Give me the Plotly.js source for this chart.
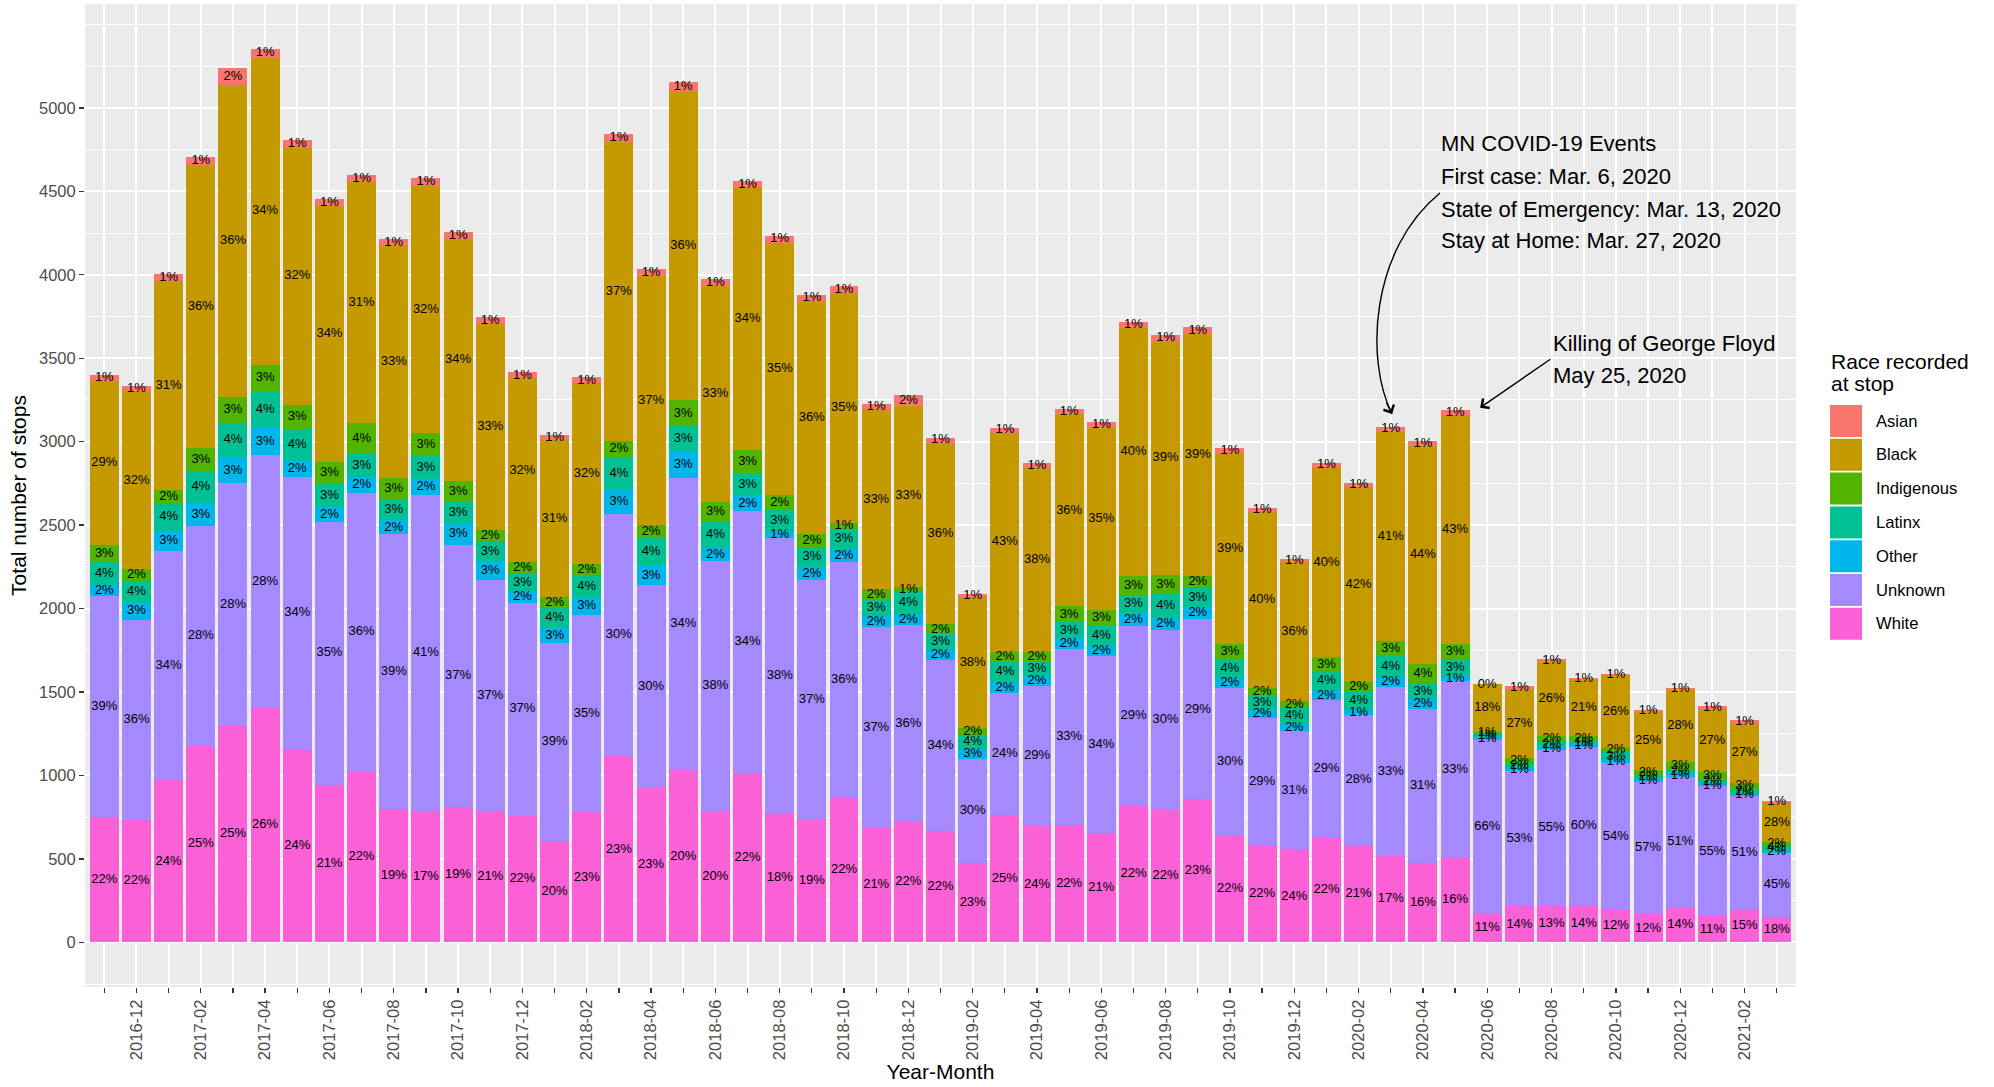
<!DOCTYPE html>
<html><head><meta charset="utf-8">
<script src="https://cdn.plot.ly/plotly-3.0.1.min.js"></script>
<style>html,body{margin:0;padding:0;background:#fff}</style>
</head><body><div id="chart" style="width:1994px;height:1087px"></div>
<script>
const months = ["2016-11","2016-12","2017-01","2017-02","2017-03","2017-04","2017-05","2017-06","2017-07","2017-08","2017-09","2017-10","2017-11","2017-12",
"2018-01","2018-02","2018-03","2018-04","2018-05","2018-06","2018-07","2018-08","2018-09","2018-10","2018-11","2018-12",
"2019-01","2019-02","2019-03","2019-04","2019-05","2019-06","2019-07","2019-08","2019-09","2019-10","2019-11","2019-12",
"2020-01","2020-02","2020-03","2020-04","2020-05","2020-06","2020-07","2020-08","2020-09","2020-10","2020-11","2020-12",
"2021-01","2021-02","2021-03"];
const totals = [3400,3335,4005,4705,5240,5355,4810,4455,4600,4215,4580,4255,3745,3415,
3040,3385,4845,4035,5155,3975,4565,4235,3880,3930,3225,3280,
3025,2090,3085,2870,3195,3115,3720,3640,3685,2960,2605,2300,
2875,2755,3090,3005,3190,1545,1535,1695,1585,1610,1395,1525,
1415,1330,845];
const categories = ["Asian","Black","Indigenous","Latinx","Other","Unknown","White"];
const colors = ["#F8766D","#C49A00","#53B400","#00C094","#00B6EB","#A58AFF","#FB61D7"];
const pctAsian = [1,1,1,1,2,1,1,1,1,1,1,1,1,1,1,1,1,1,1,1,1,1,1,1,1,2,1,1,1,1,1,1,1,1,1,1,1,1,1,1,1,1,1,0,1,1,1,1,1,1,1,1,1];
const pctBlack = [29,32,31,36,36,34,32,34,31,33,32,34,33,32,31,32,37,37,36,33,34,35,36,35,33,33,36,38,43,38,36,35,40,39,39,39,40,36,40,42,41,44,43,18,27,26,21,26,25,28,27,27,28];
const pctIndigenous = [3,2,2,3,3,3,3,3,4,3,3,3,2,2,2,2,2,2,3,3,3,2,2,1,2,1,2,2,2,2,3,3,3,3,2,3,2,2,3,2,3,4,3,1,2,2,2,2,2,3,3,3,2];
const pctLatinx = [4,4,4,4,4,4,4,3,3,3,3,3,3,3,4,4,4,4,3,4,3,3,3,3,3,4,3,4,4,3,3,4,3,4,3,4,3,4,4,4,4,3,3,1,2,2,1,3,2,2,2,2,4];
const pctOther = [2,3,3,3,3,3,2,2,2,2,2,3,3,2,3,3,3,3,3,2,2,1,2,2,2,2,2,3,2,2,2,2,2,2,2,2,2,2,2,1,2,2,1,1,1,1,1,1,1,1,1,1,2];
const pctUnknown = [39,36,34,28,28,28,34,35,36,39,41,37,37,37,39,35,30,30,34,38,34,38,37,36,37,36,34,30,24,29,33,34,29,30,29,30,29,31,29,28,33,31,33,66,53,55,60,54,57,51,55,51,45];
const pctWhite = [22,22,24,25,25,26,24,21,22,19,17,19,21,22,20,23,23,23,20,20,22,18,19,22,21,22,22,23,25,24,22,21,22,22,23,22,22,24,22,21,17,16,16,11,14,13,14,12,12,14,11,15,18];

const pct = {Asian:pctAsian, Black:pctBlack, Indigenous:pctIndigenous, Latinx:pctLatinx, Other:pctOther, Unknown:pctUnknown, White:pctWhite};
const FONT = "Liberation Sans, Arial, Helvetica, sans-serif";

// layout geometry
const W = 1994, H = 1087, ML = 85, MR = 198, MT = 4, MB = 100;
const PW = W - ML - MR, PH = H - MT - MB;
const px2paperX = X => (X - ML) / PW;
const px2paperY = Y => (H - MB - Y) / PH;

const sums = months.map((m,i) => categories.reduce((s,c) => s + pct[c][i], 0));
const base = months.map(() => 0);
const barTraces = [], labelTraces = [];
categories.slice().reverse().forEach(c => {
  const vals = months.map((m,i) => totals[i] * pct[c][i] / sums[i]);
  const mids = vals.map((v,i) => base[i] + v/2);
  vals.forEach((v,i) => base[i] += v);
  barTraces.push({type:'bar', x:months, y:vals, name:c,
    marker:{color:colors[categories.indexOf(c)], line:{width:0}},
    hoverinfo:'skip', showlegend:false});
  labelTraces.push({type:'scatter', mode:'text', x:months, y:mids,
    text: pct[c].map(p => p + '%'), textposition:'middle center',
    textfont:{family:FONT, size:13, color:'#000000'},
    hoverinfo:'skip', showlegend:false, cliponaxis:false});
});

const maxTot = Math.max(...totals);
const yRange = [-0.05*maxTot, 1.05*maxTot];
// major breaks cover the data range; minor grid lines every 250 across the panel
const majorTicks = [], minorTicks = [];
for (let v = 0; v <= maxTot; v += 500) majorTicks.push(v);
for (let v = -250; v <= yRange[1]; v += 250) if (majorTicks.indexOf(v) < 0) minorTicks.push(v);

// custom legend
const shapes = [], annotations = [];
categories.forEach((c,i) => {
  const top = 405 + i*33.8;
  shapes.push({type:'rect', xref:'paper', yref:'paper',
    x0:px2paperX(1830), x1:px2paperX(1862), y0:px2paperY(top+32), y1:px2paperY(top),
    fillcolor:colors[i], line:{width:0}});
  annotations.push({xref:'paper', yref:'paper', x:px2paperX(1874), y:px2paperY(top+16),
    xanchor:'left', yanchor:'middle', text:c, showarrow:false,
    font:{family:FONT, size:16.6, color:'#000000'}});
});
annotations.push({xref:'paper', yref:'paper', x:px2paperX(1829), y:px2paperY(361),
  xanchor:'left', yanchor:'middle', text:'Race recorded', showarrow:false,
  font:{family:FONT, size:21, color:'#000000'}});
annotations.push({xref:'paper', yref:'paper', x:px2paperX(1829), y:px2paperY(383.5),
  xanchor:'left', yanchor:'middle', text:'at stop', showarrow:false,
  font:{family:FONT, size:21, color:'#000000'}});

// event annotations (data coordinates: category index, stop count)
const covidLines = ["MN COVID-19 Events","First case: Mar. 6, 2020","State of Emergency: Mar. 13, 2020","Stay at Home: Mar. 27, 2020"];
const covidY = [4788, 4588, 4394, 4203];
covidLines.forEach((t,i) => annotations.push({xref:'x', yref:'y', x:41.49, y:covidY[i],
  xanchor:'left', yanchor:'middle', text:t, showarrow:false,
  font:{family:FONT, size:22, color:'#000000'}}));
const floydLines = ["Killing of George Floyd","May 25, 2020"];
const floydY = [3589, 3395];
floydLines.forEach((t,i) => annotations.push({xref:'x', yref:'y', x:44.99, y:floydY[i],
  xanchor:'left', yanchor:'middle', text:t, showarrow:false,
  font:{family:FONT, size:22, color:'#000000'}}));

// curved arrow to 2020-03
shapes.push({type:'path', xref:'x', yref:'y',
  path:'M41.53,4490 C39.36,4148 39.20,3489 40.04,3166',
  line:{color:'#000000', width:1.4}, fillcolor:'rgba(0,0,0,0)'});
annotations.push({xref:'x', yref:'y', x:40.04, y:3166, ax:-6.3, ay:-12.5, axref:'pixel', ayref:'pixel',
  text:'', showarrow:true, arrowhead:4, arrowsize:1.6, arrowwidth:1.4, arrowcolor:'#000000', standoff:0});
// straight arrow to 2020-05
annotations.push({xref:'x', yref:'y', x:42.78, y:3204, ax:71.7, ay:-49.4, axref:'pixel', ayref:'pixel',
  text:'', showarrow:true, arrowhead:4, arrowsize:1.6, arrowwidth:1.4, arrowcolor:'#000000', standoff:0});

const layout = {
  width:W, height:H,
  margin:{l:ML, r:MR, t:MT, b:MB, pad:0},
  paper_bgcolor:'#FFFFFF', plot_bgcolor:'#EBEBEB',
  barmode:'stack', bargap:0.1,
  font:{family:FONT},
  showlegend:false,
  xaxis:{type:'category', range:[-0.6, months.length - 0.4], autorange:false,
    tickmode:'array', tickvals:months, ticktext:months.map((m,i) => i % 2 === 1 ? m : ''),
    tickangle:-90, ticks:'outside', ticklen:5, tickwidth:1.3, tickcolor:'#333333',
    tickfont:{family:FONT, size:16.5, color:'#4D4D4D'},
    showgrid:true, gridcolor:'#FFFFFF', gridwidth:2, zeroline:false, showline:false,
    title:{text:'Year-Month', font:{family:FONT, size:21, color:'#000000'}, standoff:4},
    automargin:false, fixedrange:true},
  yaxis:{range:yRange, autorange:false, tickmode:'array', tickvals:majorTicks,
    ticktext:majorTicks.map(String),
    ticks:'outside', ticklen:5, tickwidth:1.3, tickcolor:'#333333',
    tickfont:{family:FONT, size:16.5, color:'#4D4D4D'},
    showgrid:true, gridcolor:'#FFFFFF', gridwidth:2, zeroline:false, showline:false,
    minor:{tickmode:'array', tickvals:minorTicks, showgrid:true, gridcolor:'#FFFFFF', gridwidth:1, ticks:''},
    title:{text:'Total number of stops', font:{family:FONT, size:21, color:'#000000'}, standoff:6},
    automargin:false, fixedrange:true},
  shapes:shapes, annotations:annotations
};

Plotly.newPlot('chart', barTraces.concat(labelTraces), layout, {displayModeBar:false, staticPlot:true});
</script>
</body></html>
